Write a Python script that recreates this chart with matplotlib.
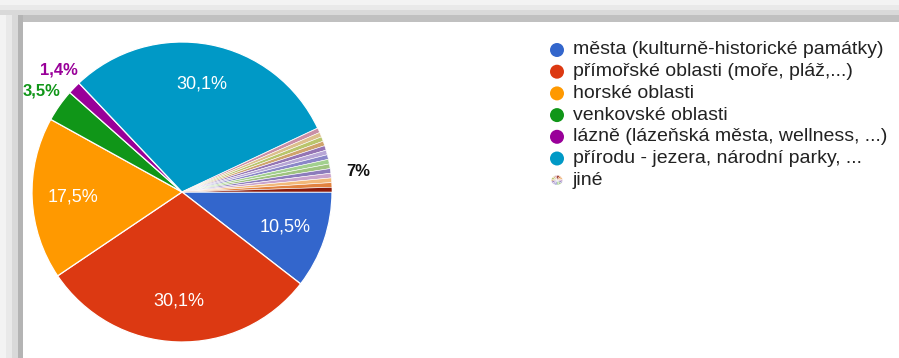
"""Pie chart of preferred holiday destinations with a side legend."""

import matplotlib
matplotlib.use("Agg")
import matplotlib.pyplot as plt
import matplotlib.patches as mpatches
import numpy as np

plt.rcParams["font.family"] = ["Liberation Sans", "DejaVu Sans"]

# main answers (percent)
categories = [
    "města (kulturně-historické památky)",
    "přímořské oblasti (moře, pláž,...)",
    "horské oblasti",
    "venkovské oblasti",
    "lázně (lázeňská města, wellness, ...)",
    "přírodu - jezera, národní parky, ...",
]
values = [10.5, 30.1, 17.5, 3.5, 1.4, 30.1]
value_labels = ["10,5%", "30,1%", "17,5%", "3,5%", "1,4%", "30,1%"]
colors = ["#3366cc", "#dc3912", "#ff9900", "#109618", "#990099", "#0099c6"]

# "jiné" - many small free-text answers, 7 % together
other_label = "jiné"
other_total_label = "7%"
other_values = [0.5] * 14
other_colors = ["#c98fa6", "#dcbf8c", "#b9c56c", "#cfa36c", "#9474b4", "#b7a6d6",
                "#8a86c8", "#a2d08e", "#9fc47f", "#8c7cbc", "#c9a3cc", "#f2b878",
                "#e2823f", "#8b1a0a"]

fig = plt.figure(figsize=(8.99, 3.58), dpi=100)
W, H = 899, 358


def px_rect(x0, y0, w, h, color):
    """Rectangle in pixel coords (y from top)."""
    fig.add_artist(mpatches.Rectangle((x0 / W, 1 - (y0 + h) / H), w / W, h / H,
                                      transform=fig.transFigure, color=color,
                                      lw=0, zorder=0))


# gray frame shadow: band across the top, band down the left side
for y0, y1, c in [(0, 5, "#f3f3f3"), (5, 10, "#e9e9e9"), (10, 15, "#d9d9d9"), (15, 22, "#c0c0c0")]:
    px_rect(0, y0, W, y1 - y0, c)
for x0, x1, c in [(0, 6, "#f3f3f3"), (6, 12, "#e9e9e9"), (12, 18, "#d9d9d9"), (18, 23, "#b4b4b4")]:
    px_rect(x0, 15, x1 - x0, H - 15, c)

# pie axes
cx, cy, r = 182, 192, 150
ax = fig.add_axes([(cx - r) / W, (H - cy - r) / H, 2 * r / W, 2 * r / H])

all_vals = values + other_values
all_cols = colors + other_colors
wedges, _ = ax.pie(all_vals, colors=all_cols, startangle=0, counterclock=False,
                   radius=1.0, wedgeprops=dict(edgecolor="white", linewidth=0.9))
for w in wedges[len(values):]:
    w.set_linewidth(0.4)
for w in wedges:
    w.set_clip_on(False)
ax.set_xlim(-1, 1)
ax.set_ylim(-1, 1)
ax.set_aspect("equal")
ax.axis("off")

for i, w in enumerate(wedges[:len(values)]):
    mid = np.deg2rad((w.theta1 + w.theta2) / 2)
    if values[i] > 5:
        d = 0.73
        ax.text(d * np.cos(mid), d * np.sin(mid), value_labels[i], color="white",
                fontsize=13, ha="center", va="center")
    else:
        d = 1.17
        ax.text(d * np.cos(mid) + 0.02, d * np.sin(mid), value_labels[i], color=colors[i],
                fontsize=12, fontweight="bold", ha="center", va="center", clip_on=False)

# label for the grouped small answers
o_start = wedges[len(values)].theta2
o_end = wedges[-1].theta1
o_mid = np.deg2rad((o_start + o_end) / 2 - 6)
ax.text(1.18 * np.cos(o_mid), 1.18 * np.sin(o_mid), other_total_label, color="#111111",
        fontsize=12, fontweight="bold", ha="center", va="center", clip_on=False)

# legend
lx, ly, dy = 557, 50, 21.7
for i, (lab, c) in enumerate(zip(categories, colors)):
    y = 1 - (ly + i * dy) / H
    fig.add_artist(mpatches.Ellipse((lx / W, y), 14 / W, 14 / H, transform=fig.transFigure,
                                    color=c, lw=0))
    fig.text(573 / W, y, lab, fontsize=14, color="#222222", va="center", ha="left")

# small multicolour icon for "jiné"
y = (ly + len(categories) * dy)
iax = fig.add_axes([(lx - 7) / W, 1 - (y + 6) / H, 14 / W, 12 / H])
iax.pie(other_values, colors=other_colors, startangle=90,
        wedgeprops=dict(edgecolor="white", linewidth=0.3))
iax.set_aspect("auto")
iax.axis("off")
fig.text(573 / W, 1 - y / H, other_label, fontsize=14, color="#222222", va="center", ha="left")

fig.savefig("out.png", dpi=100)
plt.close(fig)
